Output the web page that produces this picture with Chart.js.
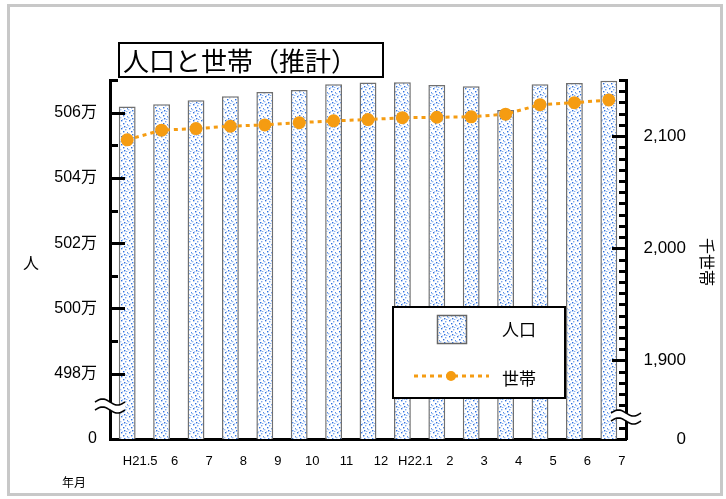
<!DOCTYPE html>
<html lang="ja">
<head>
  <meta charset="UTF-8">
  <title>人口と世帯（推計）</title>
  <script src="https://cdn.jsdelivr.net/npm/chart.js"></script>
  <style>
    body { margin: 0; background: #fff; }
    #frame { position: relative; width: 726px; height: 499px; }
  </style>
</head>
<body>
<div id="frame"><canvas id="myChart" width="726" height="499"></canvas></div>
<script>
  // 年月
  const labels = ["H21.5", "6", "7", "8", "9", "10", "11", "12", "H22.1", "2", "3", "4", "5", "6", "7"]
  // 人口（人）
  const population = [5061900, 5062600, 5063800, 5065000, 5066300, 5066900, 5068700, 5069200, 5069300, 5068500, 5068100, 5060800, 5068700, 5069100, 5069800]
  // 世帯（千世帯）
  const households = [2096.7, 2105.3, 2106.7, 2108.8, 2110.0, 2112.0, 2113.6, 2114.7, 2116.4, 2116.8, 2117.2, 2119.5, 2128.0, 2129.8, 2132.2]

  // broken axes: the bottom tick stands for 0
  const popMin = 4960000, popMax = 5070000
  const popTickValues = [4960000, 4980000, 5000000, 5020000, 5040000, 5060000]
  const popTickLabels = ["0", "498万", "500万", "502万", "504万", "506万"]
  const hhMin = 1830, hhMax = 2150
  const hhTickValues = [1830, 1900, 2000, 2100]
  const hhTickLabels = ["0", "1,900", "2,000", "2,100"]

  const ORANGE = "#f59c12"
  const latin = "'Liberation Sans', Arial, 'Noto Sans CJK JP', sans-serif"
  const cjk = "'Noto Sans CJK JP', sans-serif"

  const canvas = document.getElementById("myChart")
  const mainCtx = canvas.getContext("2d")

  function dotPattern() {
    const c = document.createElement("canvas")
    c.width = 8; c.height = 8
    const g = c.getContext("2d")
    g.fillStyle = "#fff"
    g.fillRect(0, 0, 8, 8)
    const dots = [[1, 0, "#2f72e0"], [5, 1, "#7aa9ee"], [3, 3, "#2f72e0"], [7, 4, "#5a90e8"],
                  [0, 5, "#9cbff3"], [4, 6, "#2f72e0"], [6, 7, "#86b0f0"], [2, 7, "#b5cff6"]]
    dots.forEach(([x, y, col]) => { g.fillStyle = col; g.fillRect(x, y, 1.4, 1.4) })
    return mainCtx.createPattern(c, "repeat")
  }
  const barFill = dotPattern()

  function drawBreak(ctx, cx, cy, gap) {
    const w = 30, a = 3
    const wave = (y0, back) => {
      for (let i = 0; i <= 20; i++) {
        const t = back ? 1 - i / 20 : i / 20
        const x = cx - w / 2 + t * w
        const y = y0 - a * Math.sin(Math.PI * 2 * t)
        if (i === 0 && !back) ctx.moveTo(x, y); else ctx.lineTo(x, y)
      }
    }
    ctx.save()
    ctx.beginPath()
    wave(cy - gap / 2, false)
    wave(cy + gap / 2, true)
    ctx.closePath()
    ctx.fillStyle = "#fff"
    ctx.fill()
    ctx.strokeStyle = "#000"
    ctx.lineWidth = 1.6
    ctx.beginPath(); wave(cy - gap / 2, false); ctx.stroke()
    ctx.beginPath(); wave(cy + gap / 2, false); ctx.stroke()
    ctx.restore()
  }

  const decor = {
    id: "decor",
    afterDatasetsDraw(chart) {
      const ctx = chart.ctx
      const yl = chart.scales.yPop, yr = chart.scales.yHh
      ctx.save()
      ctx.strokeStyle = "#000"
      ctx.lineWidth = 3
      yl.ticks.forEach(t => {
        if (t.value === popMin) return
        const y = Math.round(yl.getPixelForValue(t.value)) + 0.5
        const len = popTickValues.includes(t.value) ? 15 : 8
        ctx.beginPath(); ctx.moveTo(yl.right, y); ctx.lineTo(yl.right + len, y); ctx.stroke()
      })
      yr.ticks.forEach(t => {
        if (t.value === hhMin) return
        const y = Math.round(yr.getPixelForValue(t.value)) + 0.5
        const len = t.value % 100 === 0 ? 14 : 7
        ctx.beginPath(); ctx.moveTo(yr.left, y); ctx.lineTo(yr.left - len, y); ctx.stroke()
      })
      ctx.restore()
    },
    afterDraw(chart) {
      const ctx = chart.ctx
      const area = chart.chartArea
      drawBreak(ctx, area.left, 406, 8)
      drawBreak(ctx, area.right, 417, 8)

      ctx.save()
      // title box
      ctx.fillStyle = "#fff"
      ctx.fillRect(118, 43, 265, 34)
      ctx.strokeStyle = "#000"
      ctx.lineWidth = 2
      ctx.strokeRect(119, 43, 264, 34)
      ctx.fillStyle = "#000"
      ctx.font = "26px " + cjk
      ctx.textAlign = "left"
      ctx.textBaseline = "middle"
      ctx.fillText("人口と世帯（推計）", 123, 61)

      // axis titles
      ctx.font = "16px " + cjk
      ctx.textAlign = "center"
      ctx.fillText("人", 31, 263)
      ctx.save()
      ctx.translate(707, 262)
      ctx.rotate(Math.PI / 2)
      ctx.fillText("千世帯", 0, 0)
      ctx.restore()
      ctx.font = "12px " + cjk
      ctx.fillText("年月", 74, 482)

      // legend
      ctx.fillStyle = "#fff"
      ctx.fillRect(392, 306, 174, 93)
      ctx.lineWidth = 2
      ctx.strokeRect(393, 307, 172, 91)
      ctx.fillStyle = barFill
      ctx.fillRect(437, 315, 30, 29)
      ctx.strokeStyle = "#666"
      ctx.lineWidth = 1.5
      ctx.strokeRect(437.5, 315.5, 29, 28)
      ctx.strokeStyle = ORANGE
      ctx.lineWidth = 3
      ctx.setLineDash([4, 4])
      ctx.beginPath(); ctx.moveTo(414, 376); ctx.lineTo(489, 376); ctx.stroke()
      ctx.setLineDash([])
      ctx.fillStyle = ORANGE
      ctx.beginPath(); ctx.arc(451, 376, 5, 0, Math.PI * 2); ctx.fill()
      ctx.fillStyle = "#000"
      ctx.font = "17px " + cjk
      ctx.textAlign = "left"
      ctx.fillText("人口", 502, 330)
      ctx.fillText("世帯", 502, 379)
      ctx.restore()
    }
  }

  const data = {
    labels: labels,
    datasets: [{
      type: "line",
      label: "世帯",
      data: households,
      yAxisID: "yHh",
      borderColor: ORANGE,
      backgroundColor: ORANGE,
      borderWidth: 3,
      borderDash: [4, 4],
      pointRadius: 5,
      pointBackgroundColor: ORANGE,
      pointBorderColor: ORANGE,
      tension: 0,
      order: 0
    }, {
      type: "bar",
      label: "人口",
      data: population,
      yAxisID: "yPop",
      backgroundColor: barFill,
      borderColor: "#707070",
      borderWidth: 1.5,
      barPercentage: 0.49,
      categoryPercentage: 1,
      order: 1
    }]
  }

  const config = {
    data,
    options: {
      responsive: false,
      animation: false,
      layout: { padding: { top: 80, left: 0, right: 40, bottom: 0 } },
      plugins: { legend: { display: false }, tooltip: { enabled: false } },
      scales: {
        x: {
          grid: { display: false, drawTicks: false },
          border: { display: true, color: "#000", width: 3 },
          ticks: { color: "#000", font: { size: 13, family: latin }, padding: 15, labelOffset: 13, maxRotation: 0, autoSkip: false },
          afterFit(s) { s.height = 60 }
        },
        yPop: {
          position: "left",
          min: popMin,
          max: popMax,
          grid: { display: false, drawTicks: false },
          border: { display: true, color: "#000", width: 3 },
          ticks: {
            stepSize: 10000,
            autoSkip: false,
            padding: 13,
            color: "#000",
            font: { size: 16, family: latin },
            callback(v) {
              const i = popTickValues.indexOf(v)
              return i < 0 ? "" : popTickLabels[i]
            }
          },
          afterFit(s) { s.width = 110 }
        },
        yHh: {
          position: "right",
          min: hhMin,
          max: hhMax,
          grid: { display: false, drawTicks: false },
          border: { display: true, color: "#000", width: 3 },
          ticks: {
            stepSize: 10,
            autoSkip: false,
            padding: 15,
            crossAlign: "far",
            color: "#000",
            font: { size: 17, family: latin },
            callback(v) {
              const i = hhTickValues.indexOf(v)
              return i < 0 ? "" : hhTickLabels[i]
            }
          },
          afterFit(s) { s.width = 60 }
        }
      }
    },
    plugins: [decor]
  }

  var myChart = new Chart(canvas, config)
</script>
<div style="position:absolute;left:7px;top:4px;width:710px;height:486px;border:3px solid #c8c8c8;pointer-events:none"></div>
</body>
</html>
